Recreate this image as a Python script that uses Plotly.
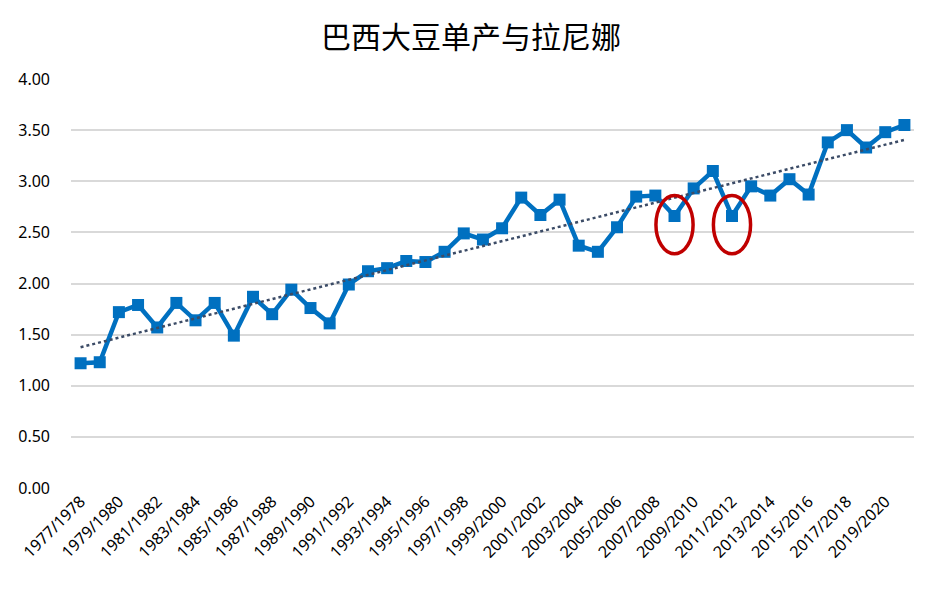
import numpy as np
import plotly.graph_objs as go

title = "巴西大豆单产与拉尼娜"

seasons = [f"{y}/{y + 1}" for y in range(1977, 2021)]

yields = [
    1.22, 1.23, 1.72, 1.79, 1.57, 1.81, 1.64, 1.81, 1.49, 1.87,
    1.70, 1.94, 1.76, 1.61, 1.99, 2.12, 2.15, 2.22, 2.21, 2.31,
    2.49, 2.43, 2.54, 2.84, 2.67, 2.82, 2.37, 2.31, 2.55, 2.85,
    2.86, 2.66, 2.93, 3.10, 2.66, 2.95, 2.86, 3.02, 2.87, 3.38,
    3.50, 3.33, 3.48, 3.55,
]

# La Nina seasons circled in red
la_nina = ["2008/2009", "2011/2012"]

y_ticks = [0, 0.5, 1.0, 1.5, 2.0, 2.5, 3.0, 3.5, 4.0]

# linear trend line
idx = np.arange(len(yields))
slope, intercept = np.polyfit(idx, yields, 1)
trend = slope * idx + intercept

data = []

data.append(
    go.Scatter(
        x=seasons,
        y=yields,
        mode="lines+markers",
        line=dict(color="#0070C0", width=4.5),
        marker=dict(symbol="square", size=12, color="#0070C0"),
        name="单产",
    )
)

data.append(
    go.Scatter(
        x=seasons,
        y=trend,
        mode="lines",
        line=dict(color="#3B4B66", width=2.5, dash="dot"),
        name="趋势",
    )
)

shapes = []
for s in la_nina:
    i = seasons.index(s)
    v = yields[i]
    shapes.append(
        dict(
            type="circle",
            xref="x", yref="y",
            x0=i - 0.97, x1=i + 0.97,
            y0=v - 0.37, y1=v + 0.2,
            line=dict(color="#C00000", width=3.5),
        )
    )

# page body has an 8px margin, so the figure is a bit smaller than the window
layout = go.Layout(
    title=dict(
        text=title,
        x=0.5, xanchor="center",
        y=0.948, yanchor="middle",
        font=dict(family="Noto Sans CJK SC", size=30, color="#000000"),
    ),
    width=926,
    height=573,
    margin=dict(l=63, r=20, t=71, b=93),
    paper_bgcolor="white",
    plot_bgcolor="white",
    showlegend=False,
    font=dict(family="Noto Sans", size=16, color="#000000"),
    xaxis=dict(
        type="category",
        range=[-0.5, len(seasons) - 0.5],
        tickmode="array",
        tickvals=seasons[::2],
        ticktext=seasons[::2],
        tickangle=-45,
        tickfont=dict(size=16),
        showgrid=False,
        showline=False,
        ticks="",
        automargin=False,
    ),
    yaxis=dict(
        range=[0, 4],
        tickvals=y_ticks,
        tickformat=".2f",
        tickfont=dict(size=16),
        gridcolor="#D9D9D9",
        gridwidth=1.5,
        zeroline=False,
        showline=False,
        ticks="",
        ticklabelstandoff=20,
        automargin=False,
    ),
    shapes=shapes,
)

fig = go.Figure(data=data, layout=layout)

fig.write_html("out.html")
